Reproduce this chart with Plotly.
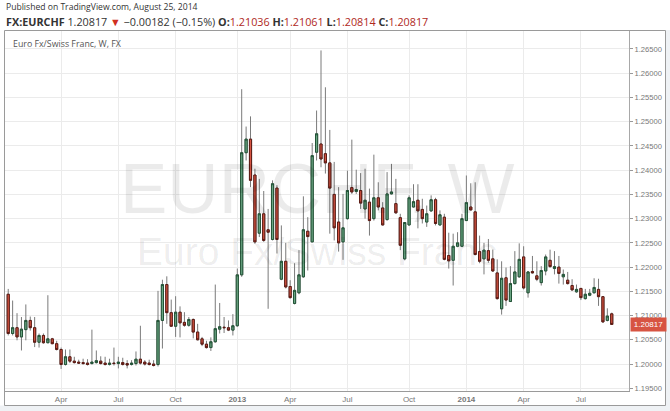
import plotly.graph_objects as go
import pandas as pd

# weekly bars, Monday dates
dates = pd.date_range("2012-01-09", periods=138, freq="7D")

open_ = [1.2144, 1.2063, 1.2075, 1.2056, 1.2071, 1.2090, 1.2075, 1.2045, 1.2059, 1.2044,
         1.2052, 1.2042, 1.2030, 1.1999, 1.2015, 1.2006, 1.2004, 1.2003, 1.2002, 1.2001,
         1.2003, 1.2006, 1.2002, 1.1999, 1.2002, 1.2001, 1.2003, 1.2001, 1.1999, 1.2001,
         1.2010, 1.2004, 1.2002, 1.2000, 1.1999, 1.2090, 1.2164, 1.2106, 1.2078, 1.2107,
         1.2086, 1.2080, 1.2092, 1.2066, 1.2052, 1.2041, 1.2034, 1.2046, 1.2072, 1.2076,
         1.2075, 1.2070, 1.2079, 1.2184, 1.2436, 1.2464, 1.2390, 1.2270, 1.2310, 1.2277,
         1.2257, 1.2363, 1.2175, 1.2212, 1.2160, 1.2125, 1.2147, 1.2180, 1.2274, 1.2252,
         1.2437, 1.2454, 1.2434, 1.2415, 1.2350, 1.2293, 1.2252, 1.2300, 1.2364, 1.2356,
         1.2358, 1.2320, 1.2334, 1.2300, 1.2343, 1.2322, 1.2298, 1.2351, 1.2331, 1.2302,
         1.2217, 1.2287, 1.2324, 1.2338, 1.2319, 1.2293, 1.2316, 1.2339, 1.2287, 1.2303,
         1.2224, 1.2214, 1.2243, 1.2243, 1.2296, 1.2324, 1.2314, 1.2232, 1.2217, 1.2234,
         1.2217, 1.2188, 1.2114, 1.2178, 1.2129, 1.2166, 1.2180, 1.2221, 1.2147, 1.2191,
         1.2182, 1.2168, 1.2192, 1.2214, 1.2197, 1.2200, 1.2180, 1.2173, 1.2162, 1.2149,
         1.2156, 1.2135, 1.2142, 1.2147, 1.2154, 1.2139, 1.2090, 1.21036]

high = [1.2155, 1.2131, 1.2105, 1.2097, 1.2123, 1.2098, 1.2097, 1.2063, 1.2063, 1.2142,
        1.2054, 1.2048, 1.2034, 1.2030, 1.2030, 1.2015, 1.2009, 1.2011, 1.2010, 1.2071,
        1.2028, 1.2016, 1.2015, 1.2011, 1.2034, 1.2015, 1.2013, 1.2008, 1.2008, 1.2026,
        1.2079, 1.2008, 1.2009, 1.2008, 1.2151, 1.2174, 1.2181, 1.2133, 1.2140, 1.2119,
        1.2107, 1.2097, 1.2094, 1.2083, 1.2056, 1.2048, 1.2055, 1.2164, 1.2126, 1.2097,
        1.2090, 1.2103, 1.2197, 1.2567, 1.2490, 1.2511, 1.2403, 1.2382, 1.2357, 1.2320,
        1.2379, 1.2369, 1.2286, 1.2250, 1.2173, 1.2208, 1.2235, 1.2346, 1.2303, 1.2456,
        1.2523, 1.2647, 1.2571, 1.2483, 1.2417, 1.2365, 1.2351, 1.2399, 1.2463, 1.2401,
        1.2394, 1.2403, 1.2362, 1.2432, 1.2375, 1.2334, 1.2396, 1.2413, 1.2382, 1.2310,
        1.2293, 1.2348, 1.2371, 1.2371, 1.2341, 1.2327, 1.2348, 1.2343, 1.2317, 1.2310,
        1.2271, 1.2269, 1.2272, 1.2310, 1.2389, 1.2373, 1.2375, 1.2265, 1.2250, 1.2258,
        1.2236, 1.2216, 1.2212, 1.2199, 1.2202, 1.2233, 1.2249, 1.2243, 1.2192, 1.2223,
        1.2212, 1.2202, 1.2226, 1.2236, 1.2233, 1.2223, 1.2195, 1.2190, 1.2175, 1.2164,
        1.2157, 1.2155, 1.2155, 1.2177, 1.2176, 1.2140, 1.2115, 1.21061]

low = [1.2059, 1.2059, 1.2049, 1.2028, 1.2049, 1.2069, 1.2035, 1.2034, 1.2042, 1.2043,
       1.2041, 1.2028, 1.1990, 1.1997, 1.2002, 1.2001, 1.2001, 1.1999, 1.1997, 1.1999,
       1.2001, 1.1999, 1.1997, 1.1997, 1.1997, 1.1991, 1.1997, 1.1991, 1.1997, 1.1997,
       1.1999, 1.1997, 1.1997, 1.1995, 1.1995, 1.2032, 1.2083, 1.2077, 1.2056, 1.2055,
       1.2077, 1.2077, 1.2053, 1.2049, 1.2037, 1.2032, 1.2027, 1.2044, 1.2063, 1.2064,
       1.2068, 1.2059, 1.2077, 1.2180, 1.2420, 1.2365, 1.2248, 1.2262, 1.2252, 1.2114,
       1.2255, 1.2228, 1.2173, 1.2156, 1.2135, 1.2123, 1.2144, 1.2178, 1.2193, 1.2252,
       1.2420, 1.2406, 1.2393, 1.2269, 1.2255, 1.2232, 1.2215, 1.2298, 1.2351, 1.2351,
       1.2320, 1.2300, 1.2265, 1.2296, 1.2317, 1.2286, 1.2296, 1.2350, 1.2310, 1.2235,
       1.2214, 1.2286, 1.2323, 1.2280, 1.2290, 1.2283, 1.2314, 1.2286, 1.2286, 1.2214,
       1.2197, 1.2162, 1.2241, 1.2241, 1.2295, 1.2317, 1.2224, 1.2208, 1.2185, 1.2209,
       1.2190, 1.2133, 1.2102, 1.2120, 1.2128, 1.2164, 1.2178, 1.2154, 1.2137, 1.2187,
       1.2171, 1.2162, 1.2183, 1.2199, 1.2185, 1.2166, 1.2164, 1.2164, 1.2151, 1.2147,
       1.2132, 1.2133, 1.2140, 1.2146, 1.2120, 1.2085, 1.2088, 1.20814]

close = [1.2063, 1.2075, 1.2056, 1.2072, 1.2090, 1.2075, 1.2045, 1.2059, 1.2044, 1.2052,
         1.2042, 1.2030, 1.1999, 1.2015, 1.2006, 1.2003, 1.2002, 1.2001, 1.1999, 1.2004,
         1.2007, 1.2001, 1.1999, 1.2002, 1.2001, 1.2004, 1.1999, 1.1998, 1.2002, 1.2010,
         1.2002, 1.2000, 1.1999, 1.1997, 1.2090, 1.2164, 1.2106, 1.2078, 1.2107, 1.2085,
         1.2080, 1.2092, 1.2066, 1.2050, 1.2041, 1.2034, 1.2046, 1.2073, 1.2077, 1.2075,
         1.2070, 1.2079, 1.2184, 1.2436, 1.2464, 1.2379, 1.2252, 1.2310, 1.2255, 1.2272,
         1.2372, 1.2257, 1.2212, 1.2159, 1.2137, 1.2152, 1.2184, 1.2277, 1.2263, 1.2430,
         1.2475, 1.2423, 1.2415, 1.2363, 1.2281, 1.2250, 1.2281, 1.2358, 1.2355, 1.2360,
         1.2332, 1.2338, 1.2296, 1.2343, 1.2324, 1.2287, 1.2351, 1.2355, 1.2312, 1.2245,
         1.2292, 1.2343, 1.2335, 1.2316, 1.2300, 1.2310, 1.2339, 1.2290, 1.2308, 1.2216,
         1.2213, 1.2243, 1.2250, 1.2300, 1.2333, 1.2318, 1.2226, 1.2212, 1.2235, 1.2214,
         1.2192, 1.2135, 1.2177, 1.2132, 1.2166, 1.2190, 1.2216, 1.2157, 1.2190, 1.2188,
         1.2175, 1.2193, 1.2221, 1.2201, 1.2201, 1.2187, 1.2185, 1.2166, 1.2153, 1.2154,
         1.2137, 1.2144, 1.2146, 1.2158, 1.2139, 1.2087, 1.2099, 1.20817]

tick_dates = ["2012-04-02", "2012-07-02", "2012-10-01", "2013-01-07", "2013-04-01",
              "2013-07-01", "2013-10-07", "2014-01-06", "2014-04-07", "2014-07-07"]
tick_labels = ["Apr", "Jul", "Oct", "<b>2013</b>", "Apr", "Jul", "Oct", "<b>2014</b>", "Apr", "Jul"]

price_ticks = [1.195, 1.200, 1.205, 1.210, 1.215, 1.220, 1.225, 1.230, 1.235, 1.240,
               1.245, 1.250, 1.255, 1.260, 1.265]
price_labels = ["1.19500", "1.20000", "1.20500", "1.21000", "1.21500", "1.22000", "1.22500",
                "1.23000", "1.23500", "1.24000", "1.24500", "1.25000", "1.25500", "1.26000",
                "1.26500"]

UP_FILL, UP_LINE = "#6ba583", "#225437"
DN_FILL, DN_LINE = "#d75442", "#5b1a13"
WICK = "#7a7a7a"

body_hi = [max(o, c) for o, c in zip(open_, close)]
body_lo = [min(o, c) for o, c in zip(open_, close)]

fig = go.Figure()
# wicks
fig.add_trace(go.Candlestick(
    x=dates, open=open_, high=high, low=low, close=close,
    increasing=dict(line=dict(color=WICK, width=1), fillcolor=WICK),
    decreasing=dict(line=dict(color=WICK, width=1), fillcolor=WICK),
    showlegend=False, hoverinfo="skip"))
# bodies
fig.add_trace(go.Candlestick(
    x=dates, open=open_, high=body_hi, low=body_lo, close=close,
    increasing=dict(line=dict(color=UP_LINE, width=1), fillcolor=UP_FILL),
    decreasing=dict(line=dict(color=DN_LINE, width=1), fillcolor=DN_FILL),
    showlegend=False, hoverinfo="skip"))

L, R, T, B = 4, 41, 31, 20
PW, PH = 670 - L - R, 411 - T - B


def px(xp):
    return (xp - L) / PW


def py(yp):
    return (411 - B - yp) / PH


fig.update_layout(
    width=670, height=411,
    margin=dict(l=L, r=R, t=T, b=B, pad=0, autoexpand=False),
    paper_bgcolor="white", plot_bgcolor="white",
    showlegend=False,
    font=dict(family="Liberation Sans, Arial, sans-serif", size=8, color="#777"),
    xaxis=dict(
        type="date",
        range=["2012-01-02 07:00", "2014-09-21 10:00"],
        rangeslider=dict(visible=False),
        tickmode="array", tickvals=tick_dates, ticktext=tick_labels,
        showgrid=True, gridcolor="#ebebeb", gridwidth=1,
        showline=True, linecolor="#9a9a9a", linewidth=1,
        ticks="", tickfont=dict(size=8, color="#777"),
        zeroline=False, fixedrange=True, automargin=False,
    ),
    yaxis=dict(
        side="right",
        range=[1.19444, 1.26871],
        tickmode="array", tickvals=price_ticks, ticktext=price_labels,
        showgrid=True, gridcolor="#ebebeb", gridwidth=1,
        showline=True, linecolor="#a8a8a8", linewidth=1,
        ticks="outside", ticklen=3, tickcolor="#999", tickwidth=1,
        tickfont=dict(size=7.6, color="#777"),
        zeroline=False, fixedrange=True, automargin=False,
    ),
)

shapes = [
    dict(type="rect", xref="paper", yref="paper", x0=px(0), x1=px(670), y0=py(411), y1=py(405.5),
         fillcolor="#eff2f5", line=dict(width=0), layer="below"),
    dict(type="rect", xref="paper", yref="paper", x0=px(665.5), x1=px(670), y0=py(411), y1=py(30),
         fillcolor="#eff2f5", line=dict(width=0), layer="below"),
    dict(type="rect", xref="paper", yref="paper", x0=px(4.5), x1=px(665.5), y0=py(405.5), y1=py(30.5),
         line=dict(color="#9a9a9a", width=1), fillcolor="rgba(0,0,0,0)", layer="above"),
]
fig.update_layout(shapes=shapes)

red = "#b0281c"
header2 = ("<b>FX:EURCHF</b> 1.20817 <span style='color:#d03020'>▼</span> "
           "\u22120.00182 (\u22120.15%) "
           f"<b>O:</b><span style='color:{red}'>1.21036</span> "
           f"<b>H:</b><span style='color:{red}'>1.21061</span> "
           f"<b>L:</b><span style='color:{red}'>1.20814</span> "
           f"<b>C:</b><span style='color:{red}'>1.20817</span>")

ann = [
    dict(text="Published on TradingView.com, August 25, 2014", x=px(4), y=py(7),
         xref="paper", yref="paper", xanchor="left", yanchor="middle", showarrow=False,
         font=dict(family="Open Sans, sans-serif", size=8.6, color="#333")),
    dict(text=header2, x=px(4), y=py(21), xref="paper", yref="paper",
         xanchor="left", yanchor="middle", showarrow=False,
         font=dict(family="Open Sans, sans-serif", size=10.8, color="#333")),
    dict(text="Euro Fx/Swiss Franc, W, FX", x=px(11), y=py(43.5), xref="paper", yref="paper",
         xanchor="left", yanchor="middle", showarrow=False,
         font=dict(family="Open Sans, sans-serif", size=8.8, color="#555")),
    dict(text="EURCHF, W", x=0.5, y=py(188), xref="paper", yref="paper",
         xanchor="center", yanchor="middle", showarrow=False,
         font=dict(family="Liberation Sans, Arial, sans-serif", size=71, color="rgba(0,0,0,0.08)")),
    dict(text="Euro Fx/Swiss Franc", x=0.5, y=py(251), xref="paper", yref="paper",
         xanchor="center", yanchor="middle", showarrow=False,
         font=dict(family="Liberation Sans, Arial, sans-serif", size=39, color="rgba(0,0,0,0.08)")),
    dict(text="1.20817", x=px(630), y=close[-1], xref="paper", yref="y",
         xanchor="left", yanchor="middle", showarrow=False,
         bgcolor="#d75442", borderpad=1, width=33, height=11, align="center",
         font=dict(family="Liberation Sans, Arial, sans-serif", size=8, color="white")),
]
fig.update_layout(annotations=ann)

fig.write_html("out.html", config={"displayModeBar": False, "staticPlot": True},
               post_script="document.body.style.margin='0px';document.body.style.padding='0px';")
